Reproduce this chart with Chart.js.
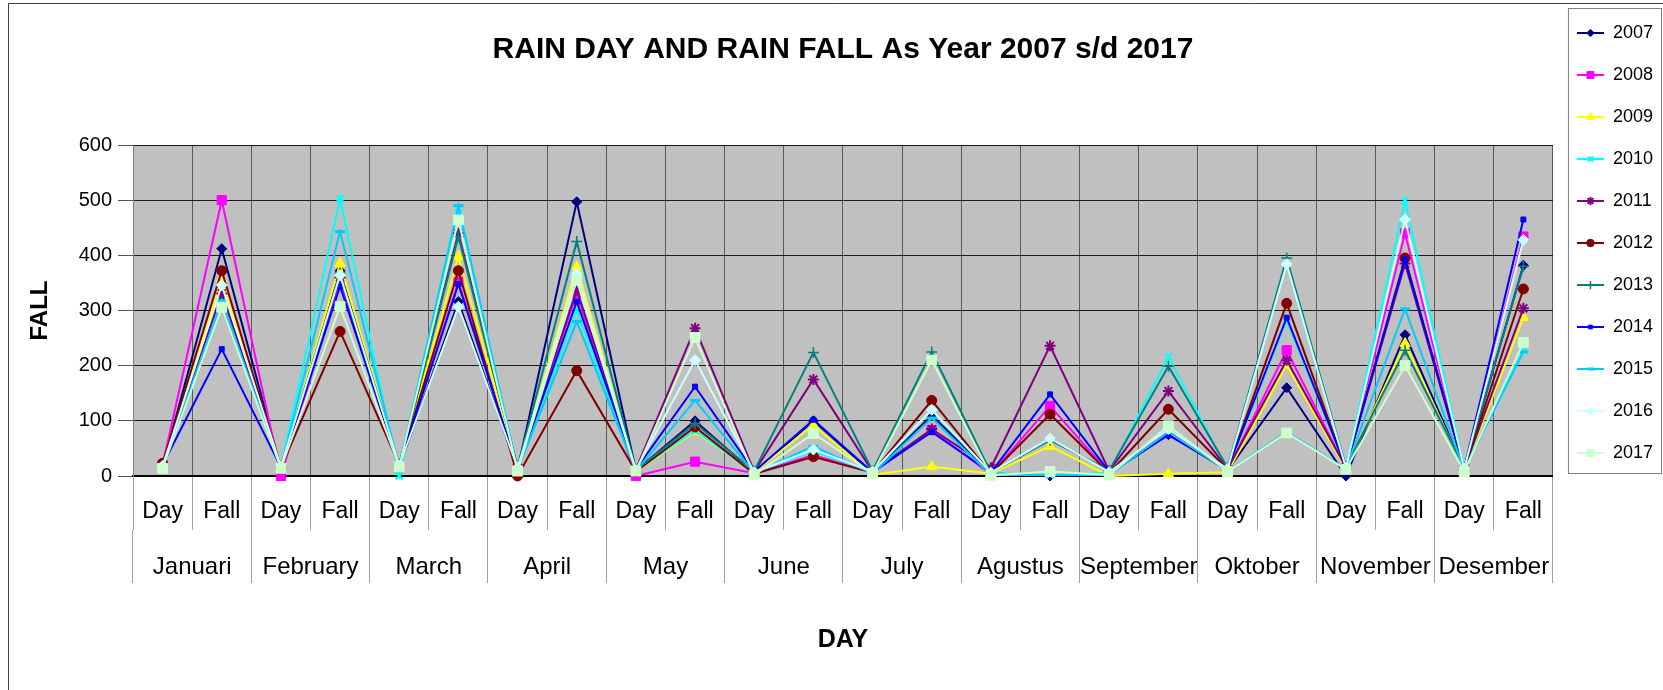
<!DOCTYPE html>
<html>
<head>
<meta charset="utf-8">
<script src="https://cdn.jsdelivr.net/npm/chart.js@4.4.1/dist/chart.umd.min.js"></script>
<style>
    html, body { margin: 0; padding: 0; background: #ffffff; }
    #wrap { width: 1663px; height: 690px; }
</style>
</head>
<body>
<div id="wrap"><canvas id="rainChart" width="1663" height="690"></canvas></div>
<script>
// categories
const months = ['Januari', 'February', 'March', 'April', 'May', 'June', 'July', 'Agustus', 'September', 'Oktober', 'November', 'Desember'];
const kinds = ['Day', 'Fall'];
const years = ['2007', '2008', '2009', '2010', '2011', '2012', '2013', '2014', '2015', '2016', '2017'];
const fallMin = 0;
const fallMax = 600;
const fallStep = 100;

// values per year: Day, Fall for each month
const rain2007 = [18, 412, 14, 372, 16, 316, 12, 497, 10, 100, 6, 100, 5, 110, 5, 0, 4, 75, 10, 160, 0, 256, 12, 382];
const rain2008 = [20, 500, 0, 355, 18, 352, 13, 331, 0, 26, 5, 38, 6, 83, 3, 127, 5, 82, 11, 228, 14, 440, 13, 434];
const rain2009 = [19, 358, 15, 385, 18, 398, 14, 379, 9, 80, 7, 92, 2, 17, 4, 54, 0, 4, 7, 201, 13, 240, 12, 287];
const rain2010 = [17, 322, 16, 503, 0, 485, 13, 300, 10, 82, 6, 45, 7, 120, 5, 2, 6, 216, 12, 283, 15, 499, 14, 228];
const rain2011 = [21, 331, 17, 360, 19, 440, 15, 337, 12, 268, 8, 175, 8, 85, 15, 236, 9, 154, 13, 210, 16, 385, 13, 304];
const rain2012 = [23, 372, 15, 262, 20, 372, 0, 191, 8, 89, 4, 35, 6, 137, 4, 112, 5, 121, 12, 313, 14, 395, 12, 339];
const rain2013 = [19, 313, 18, 368, 21, 434, 16, 425, 11, 95, 9, 224, 9, 225, 6, 65, 10, 199, 15, 395, 17, 228, 15, 380];
const rain2014 = [20, 230, 16, 344, 19, 348, 14, 316, 12, 162, 8, 102, 7, 80, 6, 148, 8, 74, 14, 287, 16, 392, 14, 465];
const rain2015 = [15, 318, 14, 443, 16, 490, 11, 280, 9, 137, 5, 54, 4, 105, 2, 2, 2, 80, 9, 80, 13, 303, 11, 225];
const rain2016 = [18, 346, 17, 364, 19, 307, 15, 367, 11, 210, 7, 48, 8, 120, 6, 68, 7, 85, 13, 384, 15, 465, 13, 428];
const rain2017 = [14, 306, 14, 307, 17, 464, 9, 355, 9, 251, 2, 77, 5, 210, 1, 8, 2, 91, 8, 78, 12, 200, 8, 242];

const series = [rain2007, rain2008, rain2009, rain2010, rain2011, rain2012, rain2013, rain2014, rain2015, rain2016, rain2017];
const categories = months.flatMap(() => kinds);

// look of each year (excel 2003 default palette and markers)
const lineColors = ['#000080', '#ff00ff', '#ffff00', '#00ffff', '#800080', '#800000', '#008080', '#0000ff', '#00ccff', '#ccffff', '#ccffcc'];
const markers = [
    {style: 'rectRot', r: 5, bw: 1},
    {style: 'rect', r: 6.5, bw: 1},
    {style: 'triangle', r: 6, bw: 1},
    {style: 'crossRot', r: 5, bw: 2},
    {style: 'star', r: 5.5, bw: 2},
    {style: 'circle', r: 5, bw: 1},
    {style: 'cross', r: 5.5, bw: 1.5},
    {style: 'rect', r: 3.5, bw: 1},
    {style: 'line', r: 5, bw: 3},
    {style: 'rectRot', r: 5.5, bw: 1},
    {style: 'rect', r: 7, bw: 1}
];

const fontFamily = "'Liberation Sans', Arial, sans-serif";

const datasets = series.map((values, i) => ({
    label: years[i],
    data: values,
    borderColor: lineColors[i],
    backgroundColor: lineColors[i],
    borderWidth: 2,
    pointStyle: markers[i].style,
    pointRadius: markers[i].r,
    pointHoverRadius: markers[i].r,
    pointBorderWidth: markers[i].bw,
    pointBackgroundColor: lineColors[i],
    pointBorderColor: lineColors[i],
    tension: 0,
    clip: 10,
    order: -i // later years on top, like excel
}));

// grey plot area, outer frame, legend box and legend markers
const chartFrame = {
    id: 'chartFrame',
    beforeDraw(chart) {
        const {ctx, chartArea: a} = chart;
        ctx.save();
        ctx.fillStyle = '#c0c0c0';
        ctx.fillRect(a.left, a.top, a.right - a.left, a.bottom - a.top);
        ctx.strokeStyle = '#404040';
        ctx.lineWidth = 1;
        ctx.beginPath();
        ctx.moveTo(8.5, chart.height);
        ctx.lineTo(8.5, 3.5);
        ctx.lineTo(chart.width, 3.5);
        ctx.stroke();
        ctx.restore();
    },
    afterDraw(chart) {
        const {ctx, legend} = chart;
        ctx.save();
        ctx.strokeStyle = '#808080';
        ctx.lineWidth = 1;
        ctx.strokeRect(legend.left + 15.5, 8.5, legend.right - legend.left - 17, 465);
        legend.legendItems.forEach((item, k) => {
            const i = item.datasetIndex;
            const box = legend.legendHitBoxes[k];
            const m = markers[i];
            ctx.fillStyle = lineColors[i];
            ctx.strokeStyle = lineColors[i];
            ctx.lineWidth = m.bw;
            Chart.helpers.drawPoint(ctx, {pointStyle: m.style, radius: m.r * 0.75, borderWidth: m.bw, rotation: 0}, box.left + 13.5, box.top + 9);
        });
        ctx.restore();
    }
};

new Chart(document.getElementById('rainChart'), {
    type: 'line',
    data: {
        labels: categories,
        datasets: datasets
    },
    options: {
        responsive: false,
        animation: false,
        devicePixelRatio: 1,
        events: [],
        layout: {padding: 0},
        plugins: {
            tooltip: {enabled: false},
            title: {
                display: true,
                text: 'RAIN DAY AND RAIN FALL As Year 2007 s/d 2017',
                fullSize: false,
                color: '#000',
                font: {family: fontFamily, size: 30, weight: 'bold'},
                padding: {top: 32, bottom: 77}
            },
            legend: {
                position: 'right',
                align: 'start',
                labels: {
                    color: '#000',
                    font: {family: fontFamily, size: 18},
                    boxWidth: 27,
                    boxHeight: 2,
                    padding: 24,
                    generateLabels: chart => chart.data.datasets.map((ds, i) => ({
                        text: ds.label,
                        fillStyle: ds.borderColor,
                        strokeStyle: ds.borderColor,
                        lineWidth: 0,
                        hidden: false,
                        datasetIndex: i,
                        fontColor: '#000'
                    }))
                }
            }
        },
        scales: {
            x: {
                type: 'category',
                offset: true,
                grid: {offset: true, color: '#5a5a5a', lineWidth: 1, tickLength: 54, tickColor: '#a0a0a0'},
                border: {color: '#000', width: 2},
                ticks: {autoSkip: false, maxRotation: 0, color: '#000', font: {family: fontFamily, size: 23}, padding: -32},
                afterFit: scale => { scale.height = 54; }
            },
            x2: {
                type: 'category',
                labels: months,
                position: 'bottom',
                weight: 1,
                offset: true,
                grid: {offset: true, drawOnChartArea: false, tickLength: 53, tickColor: '#a0a0a0'},
                border: {display: false},
                ticks: {autoSkip: false, maxRotation: 0, color: '#000', font: {family: fontFamily, size: 24}, padding: -30},
                title: {display: true, text: 'DAY', color: '#000', font: {family: fontFamily, size: 25, weight: 'bold'}, padding: {bottom: 35}},
                afterFit: scale => { scale.height = 160; }
            },
            y: {
                min: fallMin,
                max: fallMax,
                ticks: {stepSize: fallStep, color: '#000', font: {family: fontFamily, size: 20}, padding: 6},
                grid: {color: '#1a1a1a', lineWidth: 1, tickLength: 15, tickColor: '#555'},
                border: {color: '#808080', width: 1},
                title: {display: true, text: 'FALL', color: '#000', font: {family: fontFamily, size: 24, weight: 'bold'}, padding: {top: 26}},
                afterFit: scale => { scale.width = 133; }
            }
        }
    },
    plugins: [chartFrame]
});
</script>
</body>
</html>
